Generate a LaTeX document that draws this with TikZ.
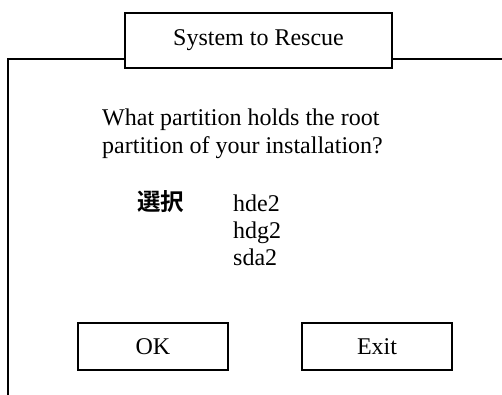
\documentclass[tikz,border=0pt]{standalone}
\usepackage{fontspec}
\setmainfont{Liberation Serif}
\newfontfamily\cjk{Noto Sans CJK JP Bold}
\begin{document}
\begin{tikzpicture}[x=1pt,y=-1pt,
  frame/.style={line width=1.6pt},
  btn/.style={draw,line width=1.6pt,fill=white,minimum width=150pt,minimum height=47pt,inner sep=0pt,font=\fontsize{24}{28}\selectfont},
  txt/.style={inner sep=0pt,font=\fontsize{24}{28}\selectfont}]
\useasboundingbox (0,0) rectangle (502,394);
\coordinate (tl) at (8,59);
\coordinate (tr) at (503,59);
\coordinate (bl) at (8,395);
\draw[frame] (tr) -- (tl) -- (bl);
\node[btn,minimum width=267pt,minimum height=55pt] (title) at (258.5,40.5) {System to Rescue};
\node[txt,anchor=base west,align=left] (q1) at (102,125) {What partition holds the root};
\node[txt,anchor=base west,align=left] (q2) at (102,153) {partition of your installation?};
\node[inner sep=0pt,anchor=base west,font=\fontsize{23.5}{26}\cjk] (sel) at (137,210) {選択};
\node[txt,anchor=base west] (p1) at (233,211) {hde2};
\node[txt,anchor=base west] (p2) at (233,238) {hdg2};
\node[txt,anchor=base west] (p3) at (233,265) {sda2};
\node[btn] (ok) at (153,346.5) {OK};
\node[btn] (exit) at (377,346.5) {Exit};
\end{tikzpicture}
\end{document}
